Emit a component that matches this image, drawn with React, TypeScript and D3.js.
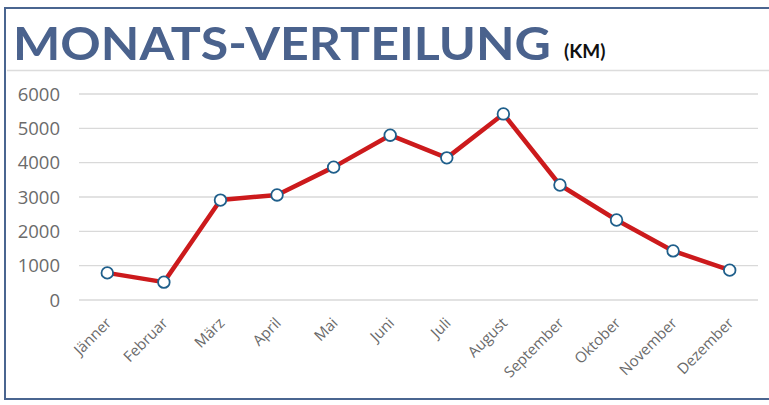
import React, { useEffect, useRef } from "react";
import * as d3 from "d3";

const months = [
  "Jänner",
  "Februar",
  "März",
  "April",
  "Mai",
  "Juni",
  "Juli",
  "August",
  "September",
  "Oktober",
  "November",
  "Dezember",
];
const km = [790, 520, 2910, 3060, 3870, 4800, 4140, 5420, 3350, 2330, 1430, 870];
const yTicks = [0, 1000, 2000, 3000, 4000, 5000, 6000];

const App = () => {
  const svgRef = useRef<SVGSVGElement>(null);
  const width = 769;
  const height = 405;
  const margin = { top: 94, right: 11, bottom: 105, left: 79 };

  useEffect(() => {
    const svg = d3.select(svgRef.current);
    svg.selectAll("*").remove();

    // frame
    svg
      .append("path")
      .attr("d", `M${width + 5},8 H5 V399 H${width + 5}`)
      .attr("fill", "none")
      .attr("stroke", "#4a6590")
      .attr("stroke-width", 2);

    svg
      .append("line")
      .attr("x1", 7)
      .attr("x2", width)
      .attr("y1", 70.5)
      .attr("y2", 70.5)
      .attr("stroke", "#dcdcdc")
      .attr("stroke-width", 1.5);

    const title = svg.append("text").attr("y", 60);
    title
      .append("tspan")
      .attr("x", 13)
      .attr("font-family", "Lato, sans-serif")
      .attr("font-weight", 700)
      .attr("font-size", 46)
      .attr("fill", "#4a628d")
      .attr("textLength", 538)
      .attr("lengthAdjust", "spacingAndGlyphs")
      .text("MONATS-VERTEILUNG");
    title
      .append("tspan")
      .attr("x", 564)
      .attr("y", 58)
      .attr("font-family", "Lato, sans-serif")
      .attr("font-weight", 700)
      .attr("font-size", 19)
      .attr("fill", "#111")
      .text("(KM)");

    const x = d3
      .scaleBand()
      .domain(months)
      .range([margin.left, width - margin.right]);

    const y = d3
      .scaleLinear()
      .domain([0, 6000])
      .range([height - margin.bottom, margin.top]);

    // grid
    svg
      .append("g")
      .selectAll("line")
      .data(yTicks)
      .join("line")
      .attr("x1", margin.left)
      .attr("x2", width - margin.right)
      .attr("y1", (d) => y(d))
      .attr("y2", (d) => y(d))
      .attr("stroke", "#d9d9d9")
      .attr("stroke-width", 1.3);

    svg
      .append("g")
      .selectAll("text")
      .data(yTicks)
      .join("text")
      .attr("x", 60)
      .attr("y", (d) => y(d))
      .attr("dy", "0.36em")
      .attr("text-anchor", "end")
      .attr("font-family", "'Open Sans', sans-serif")
      .attr("font-size", 18.5)
      .attr("fill", "#6b6b6b")
      .text((d) => d);

    const cx = (d: string) => x(d)! + x.bandwidth() / 2;

    svg
      .append("g")
      .selectAll("text")
      .data(months)
      .join("text")
      .attr("transform", (d) => `translate(${cx(d) - 3},${316}) rotate(-45)`)
      .attr("dy", "0.75em")
      .attr("text-anchor", "end")
      .attr("font-family", "'Open Sans', sans-serif")
      .attr("font-size", 15)
      .attr("fill", "#6a6a6a")
      .text((d) => d);

    const line = d3
      .line<number>()
      .x((_, i) => cx(months[i]))
      .y((d) => y(d));

    svg
      .append("path")
      .datum(km)
      .attr("d", line)
      .attr("fill", "none")
      .attr("stroke", "#cc1a1c")
      .attr("stroke-width", 4.5)
      .attr("stroke-linejoin", "round");

    svg
      .append("g")
      .selectAll("circle")
      .data(km)
      .join("circle")
      .attr("cx", (_, i) => cx(months[i]))
      .attr("cy", (d) => y(d))
      .attr("r", 5.8)
      .attr("fill", "#fff")
      .attr("stroke", "#1f5f8b")
      .attr("stroke-width", 1.8);
  }, []);

  return (
    <svg
      ref={svgRef}
      width={width}
      height={height}
      style={{ position: "absolute", left: 0, top: 0 }}
    />
  );
};

export default App;
